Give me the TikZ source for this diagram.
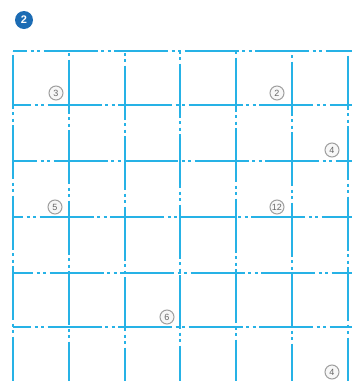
\documentclass[tikz,border=0pt]{standalone}
\usepackage{fontspec}
\newfontfamily\numfont{Liberation Sans}
\definecolor{gridblue}{RGB}{38,178,230}
\definecolor{badgeblue}{RGB}{28,108,180}
\tikzset{
  gridline/.style={gridblue, line width=1.8pt,
    dash pattern=on 54pt off 3.5pt on 3pt off 3.5pt on 3pt off 3.5pt},
  numcirc/.style={circle, draw=gray!75, fill=gray!6, line width=1pt,
    inner sep=0pt, minimum size=14pt,
    font=\numfont\fontsize{9}{10}\selectfont, text=gray!80!black},
  badge/.style={circle, fill=badgeblue, text=white, inner sep=0pt,
    minimum size=18pt, font=\numfont\bfseries\fontsize{11}{12}\selectfont}
}
\begin{document}
\begin{tikzpicture}[x=1pt,y=-1pt]
\useasboundingbox (0,0) rectangle (352,381);
\begin{scope}
\clip (0,0) rectangle (352,381);
% horizontal lines
\foreach \yy/\ph in {51/40,105/36,161/30,217/44,273/34,327/36}
  \draw[gridline, dash phase=\ph pt] (13,\yy) -- (352,\yy);
% vertical lines
\foreach \xx/\ph in {13/67,69/62,125/56,180/58,236/64,292/60,348/66}
  \draw[gridline, dash phase=\ph pt] (\xx,51) -- (\xx,381);
\end{scope}
% badge
\node[badge] (badge) at (24,20) {2};
% circled numbers
\node[numcirc] (n3)  at (56,93)  {3};
\node[numcirc] (n2)  at (277,93) {2};
\node[numcirc] (n4a) at (332,150) {4};
\node[numcirc] (n5)  at (55,207) {5};
\node[numcirc] (n12) at (277,207) {12};
\node[numcirc] (n6)  at (167,317) {6};
\node[numcirc] (n4b) at (332,372) {4};
\end{tikzpicture}
\end{document}
